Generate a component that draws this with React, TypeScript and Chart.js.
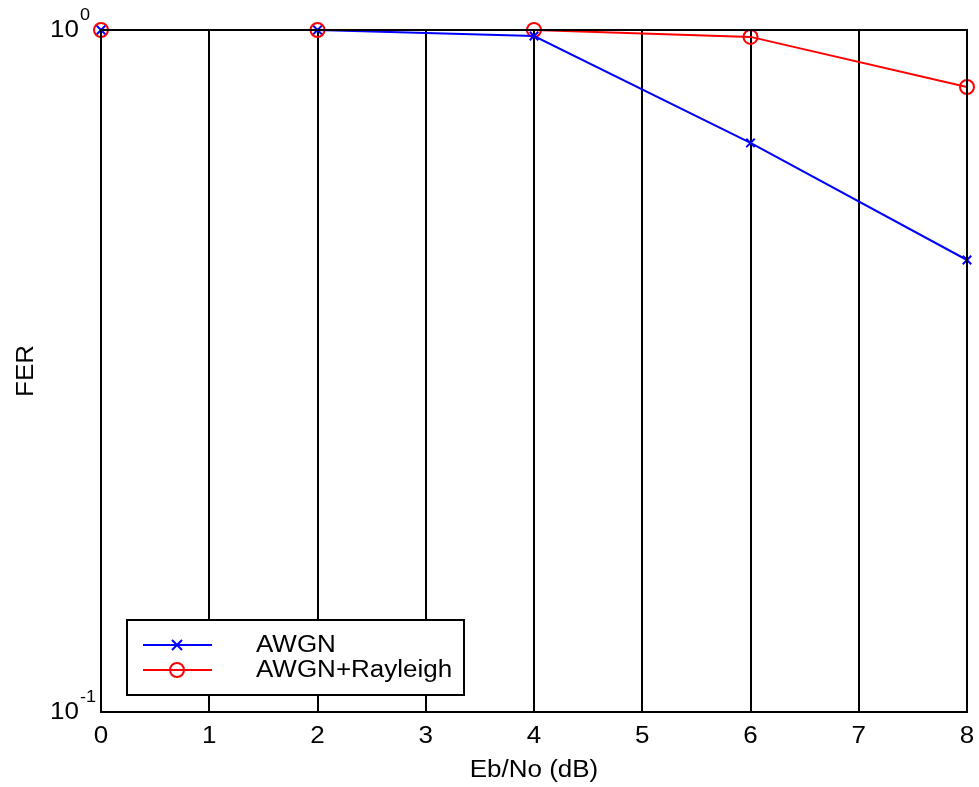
import React, { useEffect, useRef } from "react";
import { Chart, registerables } from "chart.js";

Chart.register(...registerables);

const ebno = [0, 2, 4, 6, 8];
const awgn = [1.0, 1.0, 0.98, 0.683, 0.46];
const rayleigh = [1.0, 1.0, 1.0, 0.977, 0.825];
const seriesLabels = ["AWGN", "AWGN+Rayleigh"];
const xTicks = [0, 1, 2, 3, 4, 5, 6, 7, 8];
const yDecades = [
  { value: 1, base: "10", exp: "0" },
  { value: 0.1, base: "10", exp: "-1" },
];
const xTitle = "Eb/No (dB)";
const yTitle = "FER";

const FONT = "Arial, 'Liberation Sans', sans-serif";
const STRETCH = 1.13;

function txt(ctx: any, s: string, x: number, y: number, size: number, align: string) {
  ctx.save();
  ctx.font = `${size}px ${FONT}`;
  ctx.textAlign = align;
  ctx.textBaseline = "alphabetic";
  ctx.translate(x, y);
  ctx.scale(STRETCH, 1);
  ctx.fillText(s, 0, 0);
  ctx.restore();
}

const overlay = {
  id: "overlay",
  afterDraw(chart: any) {
    const ctx = chart.ctx;
    const a = chart.chartArea;
    const xs = chart.scales.x;
    const ys = chart.scales.y;
    ctx.save();
    ctx.strokeStyle = "#000";
    ctx.lineWidth = 2;
    ctx.strokeRect(a.left, a.top, a.right - a.left, a.bottom - a.top);

    ctx.fillStyle = "#000";
    for (const v of xTicks) {
      txt(ctx, String(v), xs.getPixelForValue(v), a.bottom + 31, 23, "center");
    }
    for (const d of yDecades) {
      const py = ys.getPixelForValue(d.value);
      txt(ctx, d.base, 50, py + 7, 23, "left");
      ctx.font = `23px ${FONT}`;
      const bw = ctx.measureText(d.base).width * STRETCH;
      txt(ctx, d.exp, 50 + bw + 1, py - 10, 16, "left");
    }
    txt(ctx, xTitle, (a.left + a.right) / 2, 777, 23, "center");
    ctx.save();
    ctx.translate(33, (a.top + a.bottom) / 2);
    ctx.rotate(-Math.PI / 2);
    txt(ctx, yTitle, 0, 0, 23, "center");
    ctx.restore();

    const lx = 127, ly = 620, lw = 337, lh = 75;
    ctx.fillStyle = "#fff";
    ctx.fillRect(lx, ly, lw, lh);
    ctx.strokeStyle = "#000";
    ctx.lineWidth = 2;
    ctx.strokeRect(lx, ly, lw, lh);
    const rows = [
      { y: 645, base: 652, color: "#0000ff", style: "x" },
      { y: 670, base: 677, color: "#ff0000", style: "o" },
    ];
    rows.forEach((r, i) => {
      ctx.strokeStyle = r.color;
      ctx.lineWidth = 2;
      ctx.beginPath();
      ctx.moveTo(143, r.y);
      ctx.lineTo(212, r.y);
      ctx.stroke();
      const cx = 177;
      ctx.beginPath();
      if (r.style === "x") {
        ctx.moveTo(cx - 5, r.y - 5);
        ctx.lineTo(cx + 5, r.y + 5);
        ctx.moveTo(cx - 5, r.y + 5);
        ctx.lineTo(cx + 5, r.y - 5);
      } else {
        ctx.arc(cx, r.y, 7, 0, Math.PI * 2);
      }
      ctx.stroke();
      ctx.fillStyle = "#000";
      txt(ctx, seriesLabels[i], 256, r.base, 23, "left");
    });
    ctx.restore();
  },
};

export default function App() {
  const ref = useRef<HTMLCanvasElement>(null);
  useEffect(() => {
    document.body.style.margin = "0";
    const chart = new Chart(ref.current!, {
      type: "line",
      data: {
        datasets: [
          {
            label: seriesLabels[0],
            data: ebno.map((x, i) => ({ x, y: awgn[i] })),
            borderColor: "#0000ff",
            backgroundColor: "#0000ff",
            borderWidth: 2,
            pointStyle: "crossRot",
            pointRadius: 6,
            pointBorderWidth: 2,
            clip: false,
          } as any,
          {
            label: seriesLabels[1],
            data: ebno.map((x, i) => ({ x, y: rayleigh[i] })),
            borderColor: "#ff0000",
            backgroundColor: "rgba(0,0,0,0)",
            borderWidth: 2,
            pointStyle: "circle",
            pointRadius: 7,
            pointBorderWidth: 2,
            clip: false,
          } as any,
        ],
      },
      options: {
        responsive: false,
        animation: false,
        layout: { padding: { top: 30, right: 12, left: 0, bottom: 0 } },
        plugins: { legend: { display: false }, tooltip: { enabled: false } },
        scales: {
          x: {
            type: "linear",
            min: 0,
            max: 8,
            afterBuildTicks: (s: any) => {
              s.ticks = xTicks.map((v) => ({ value: v }));
            },
            afterFit: (s: any) => {
              s.height = 75;
            },
            ticks: { display: false },
            grid: { color: "#000", lineWidth: 2, drawTicks: false },
            border: { color: "#000", width: 2 },
          },
          y: {
            type: "logarithmic",
            min: 0.1,
            max: 1,
            afterFit: (s: any) => {
              s.width = 101;
            },
            ticks: { display: false },
            grid: { display: false },
            border: { color: "#000", width: 2 },
          },
        },
      } as any,
      plugins: [overlay],
    });
    return () => chart.destroy();
  }, []);
  return <canvas ref={ref} width={979} height={787} style={{ display: "block" }} />;
}
